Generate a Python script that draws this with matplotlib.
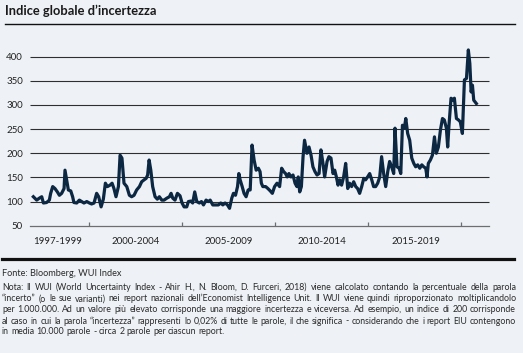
import matplotlib.pyplot as plt

# values (decimal year, index value)
years = [
    1997.02, 1997.20, 1997.34, 1997.47, 1997.56, 1997.73, 1997.88, 1997.95, 1998.06, 1998.18,
    1998.31, 1998.42, 1998.54, 1998.67, 1998.72, 1998.81, 1998.90, 1999.03, 1999.13, 1999.20,
    1999.35, 1999.49, 1999.62, 1999.74, 1999.89, 2000.03, 2000.15, 2000.28, 2000.42, 2000.53,
    2000.66, 2000.78, 2000.89, 2001.00, 2001.14, 2001.25, 2001.35, 2001.46, 2001.59, 2001.68,
    2001.78, 2001.89, 2002.04, 2002.18, 2002.30, 2002.43, 2002.57, 2002.72, 2002.84, 2002.97,
    2003.08, 2003.16, 2003.24, 2003.33, 2003.43, 2003.56, 2003.68, 2003.79, 2003.92, 2004.04,
    2004.19, 2004.33, 2004.42, 2004.51, 2004.63, 2004.76, 2004.90, 2005.01, 2005.12, 2005.26,
    2005.35, 2005.48, 2005.58, 2005.69, 2005.80, 2005.94, 2006.05, 2006.16, 2006.30, 2006.43,
    2006.52, 2006.66, 2006.84, 2006.96, 2007.09, 2007.20, 2007.32, 2007.45, 2007.56, 2007.68,
    2007.77, 2007.88, 2007.99, 2008.06, 2008.13, 2008.24, 2008.34, 2008.45, 2008.56, 2008.67,
    2008.77, 2008.88, 2008.99, 2009.11, 2009.20, 2009.27, 2009.35, 2009.50, 2009.62, 2009.75,
    2009.86, 2009.98, 2010.11, 2010.25, 2010.36, 2010.47, 2010.57, 2010.66, 2010.75, 2010.86,
    2010.97, 2011.08, 2011.18, 2011.25, 2011.33, 2011.42, 2011.51, 2011.59, 2011.72, 2011.83,
    2011.94, 2012.04, 2012.15, 2012.26, 2012.37, 2012.47, 2012.58, 2012.67, 2012.80, 2012.90,
    2013.01, 2013.12, 2013.21, 2013.30, 2013.39, 2013.48, 2013.58, 2013.69, 2013.80, 2013.91,
    2014.01, 2014.12, 2014.23, 2014.34, 2014.44, 2014.55, 2014.66, 2014.77, 2014.87, 2014.98,
    2015.09, 2015.20, 2015.30, 2015.41, 2015.52, 2015.63, 2015.73, 2015.84, 2015.95, 2016.06,
    2016.16, 2016.27, 2016.38, 2016.45, 2016.56, 2016.67, 2016.76, 2016.85, 2016.95, 2017.03,
    2017.13, 2017.24, 2017.35, 2017.46, 2017.56, 2017.67, 2017.78, 2017.89, 2017.99, 2018.10,
    2018.17, 2018.24, 2018.35, 2018.46, 2018.57, 2018.67, 2018.78, 2018.89, 2019.00, 2019.10,
    2019.21, 2019.28, 2019.35, 2019.46, 2019.57, 2019.64, 2019.75, 2019.86, 2019.96, 2020.07,
    2020.18, 2020.29, 2020.39, 2020.47, 2020.54, 2020.61, 2020.68, 2020.82,
]
wui = [
    110, 103, 107, 110, 97, 98, 103, 117, 131, 127,
    120, 113, 117, 127, 165, 145, 124, 122, 110, 98,
    97, 103, 100, 97, 100, 97, 95, 97, 117, 110,
    89, 105, 138, 131, 134, 138, 127, 110, 131, 196,
    190, 138, 131, 113, 110, 113, 124, 131, 141, 145,
    148, 155, 186, 165, 131, 110, 105, 110, 103, 103,
    107, 110, 117, 107, 103, 117, 112, 97, 89, 89,
    100, 101, 97, 120, 100, 97, 100, 93, 103, 100,
    103, 93, 93, 93, 97, 93, 97, 93, 86, 107,
    117, 113, 131, 158, 145, 131, 117, 110, 124, 124,
    217, 186, 165, 169, 162, 138, 131, 131, 127, 122,
    117, 131, 138, 131, 169, 162, 158, 151, 158, 151,
    155, 138, 131, 151, 120, 131, 193, 227, 200, 213,
    196, 172, 162, 155, 158, 207, 179, 151, 183, 193,
    190, 158, 165, 151, 134, 145, 134, 151, 179, 127,
    138, 131, 141, 131, 127, 117, 131, 148, 145, 151,
    158, 145, 131, 131, 138, 151, 193, 158, 131, 162,
    183, 172, 158, 252, 172, 169, 158, 258, 252, 272,
    241, 227, 190, 179, 172, 176, 169, 176, 172, 169,
    151, 179, 186, 196, 234, 200, 213, 248, 272, 269,
    252, 213, 258, 314, 310, 314, 272, 269, 265, 241,
    352, 355, 414, 386, 327, 341, 310, 303,
]

y_ticks = [50, 100, 150, 200, 250, 300, 350, 400]
boundary_ticks = [2000, 2005, 2010, 2015, 2020]
period_pos = [1998.3, 2002.5, 2007.5, 2012.5, 2017.6]
period_labels = ['1997-1999', '2000-2004', '2005-2009', '2010-2014', '2015-2019']

title = 'Indice globale d’incertezza'
source = 'Fonte: Bloomberg, WUI Index'
note_lines = [
    'Nota: Il WUI (World Uncertainty Index - Ahir H., N. Bloom, D. Furceri, 2018) viene calcolato contando la percentuale della parola',
    '“incerto” (o le sue varianti) nei report nazionali dell’Economist Intelligence Unit. Il WUI viene quindi riproporzionato moltiplicandolo',
    'per 1.000.000. Ad un valore più elevato corrisponde una maggiore incertezza e viceversa. Ad esempio, un indice di 200 corrisponde',
    'al caso in cui la parola “incertezza” rappresenti lo 0,02% di tutte le parole, il che significa - considerando che i report EIU contengono',
    'in media 10.000 parole - circa 2 parole per ciascun report.',
]

BG = '#eef1f5'
NAVY = '#0c2742'
W, H = 523, 353

plt.rcParams['font.family'] = ['Lato', 'DejaVu Sans']

fig = plt.figure(figsize=(W / 100, H / 100), dpi=100, facecolor=BG)
ax = fig.add_axes([30 / W, 1 - 225.7 / H, 459 / W, 169 / H])
ax.set_facecolor(BG)

ax.set_xlim(1996.84, 2021.5)
ax.set_ylim(50, 400)

# horizontal grid lines (bottom one is the axis spine)
ax.hlines(y_ticks[1:], 1996.84, 2021.5, colors='#2e2e2e', lw=0.8, zorder=1, clip_on=False)
ax.plot(years, wui, color=NAVY, lw=2.3, solid_joinstyle='round', zorder=3, clip_on=False)

for s in ['top', 'left', 'right']:
    ax.spines[s].set_visible(False)
ax.spines['bottom'].set_color('#6e6e6e')
ax.spines['bottom'].set_linewidth(0.9)

ax.set_yticks(y_ticks)
ax.set_yticklabels([str(v) for v in y_ticks])
ax.tick_params(axis='y', length=0, pad=5, labelsize=7, labelcolor='#222222')

ax.set_xticks(boundary_ticks)
ax.set_xticklabels([])
ax.tick_params(axis='x', which='major', direction='in', length=3, width=0.9, color='#6e6e6e')
ax.set_xticks(period_pos, minor=True)
ax.set_xticklabels(period_labels, minor=True)
ax.tick_params(axis='x', which='minor', length=0, pad=8, labelsize=7, labelcolor='#222222')

# title and rules
fig.text(5 / W, 1 - 11 / H, title, fontsize=9.3, fontweight='bold', color='#1a1a1a', va='center')
fig.add_artist(plt.Line2D([5 / W, 515 / W], [1 - 24.3 / H] * 2, color='#111111', lw=1.0))
fig.add_artist(plt.Line2D([2 / W, 514 / W], [1 - 259.3 / H] * 2, color='#111111', lw=2.3))

fig.text(2 / W, 1 - 273 / H, source, fontsize=6.6, color='#2a2a2a', va='center')


def justified(text, x0, x1, y, size, last=False):
    r = fig.canvas.get_renderer()
    words = text.split(' ')
    objs = [fig.text(0, y, w, fontsize=size, color='#2a2a2a', va='center') for w in words]
    widths = [o.get_window_extent(r).width for o in objs]
    if last:
        a = fig.text(0, 0, 'a a', fontsize=size)
        b = fig.text(0, 0, 'aa', fontsize=size)
        gap = a.get_window_extent(r).width - b.get_window_extent(r).width
        a.remove()
        b.remove()
    else:
        gap = ((x1 - x0) - sum(widths)) / (len(words) - 1)
    x = x0
    for o, w in zip(objs, widths):
        o.set_x(x / W)
        x += w + gap


note_y = [287.3, 298.7, 310, 321, 332]
for i, (line, yy) in enumerate(zip(note_lines, note_y)):
    justified(line, 2, 516, 1 - yy / H, 6.35, last=(i == len(note_lines) - 1))

fig.savefig('out.png', dpi=100, facecolor=BG)
